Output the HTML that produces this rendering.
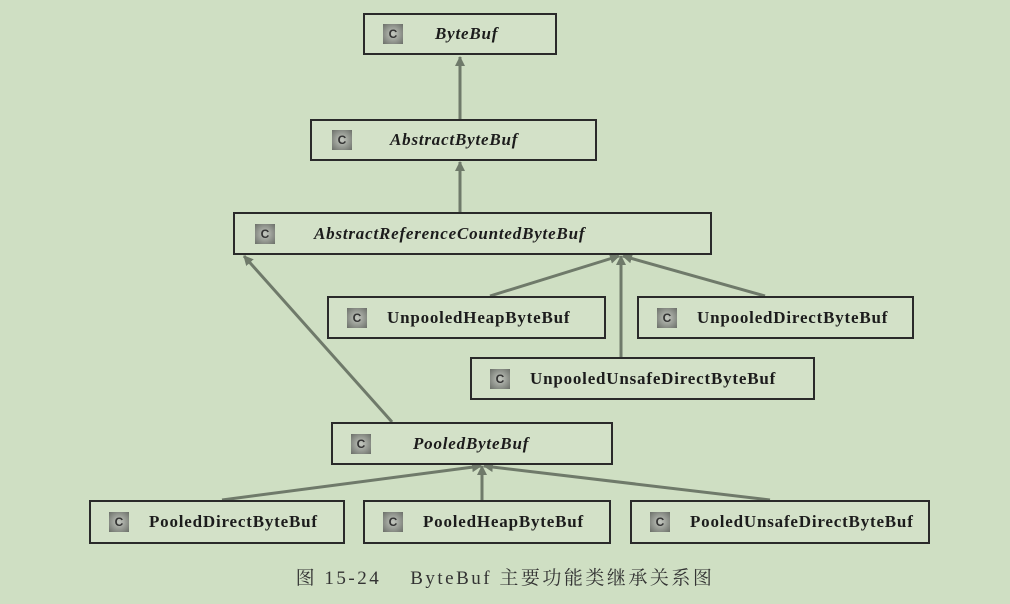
<!DOCTYPE html>
<html><head><style>
body{margin:0;width:1010px;height:604px;background:#cfdfc3;overflow:hidden;position:relative;font-family:"Liberation Serif",serif}
.b{position:absolute;border:2px solid #2a2a2a;box-sizing:border-box;background:#d3e1c8}
.i{position:absolute;top:50%;margin-top:-10px;width:20px;height:20px;background:radial-gradient(#c4c8c0,#6a6e68);font:bold 12px "Liberation Sans",sans-serif;color:#333;text-align:center;line-height:20px}
.t{position:absolute;top:0;bottom:0;display:flex;align-items:center;font-weight:bold;font-size:17px;letter-spacing:0.8px;color:#1c1c1c}
.it{font-style:italic}
svg{position:absolute;left:0;top:0}
.cap{position:absolute;top:563px;left:0;width:1010px;text-align:center;font:19px "Liberation Serif","Noto Serif CJK SC",serif;color:#333;letter-spacing:2.5px}
</style></head><body>
<svg width="1010" height="604"><defs><marker id="a" markerWidth="10" markerHeight="10" refX="9" refY="5" orient="auto" markerUnits="userSpaceOnUse"><path d="M0,0L10,5L0,10z" fill="#6f7a6a"/></marker></defs>
<g stroke="#6f7a6a" stroke-width="3" marker-end="url(#a)">
<line x1="460" y1="119" x2="460" y2="57"/>
<line x1="460" y1="212" x2="460" y2="162"/>
<line x1="392" y1="422" x2="244" y2="256"/>
<line x1="490" y1="296" x2="619" y2="256"/>
<line x1="621" y1="357" x2="621" y2="256"/>
<line x1="765" y1="296" x2="623" y2="256"/>
<line x1="222" y1="500" x2="481" y2="466"/>
<line x1="482" y1="500" x2="482" y2="466"/>
<line x1="770" y1="500" x2="484" y2="466"/>
</g></svg>
<div class="b" style="left:363px;top:13px;width:194px;height:42px"><div class="i" style="left:18px">C</div><div class="t it" style="left:70px">ByteBuf</div></div>
<div class="b" style="left:310px;top:119px;width:287px;height:42px"><div class="i" style="left:20px">C</div><div class="t it" style="left:78px">AbstractByteBuf</div></div>
<div class="b" style="left:233px;top:212px;width:479px;height:43px"><div class="i" style="left:20px">C</div><div class="t it" style="left:79px">AbstractReferenceCountedByteBuf</div></div>
<div class="b" style="left:327px;top:296px;width:279px;height:43px"><div class="i" style="left:18px">C</div><div class="t" style="left:58px">UnpooledHeapByteBuf</div></div>
<div class="b" style="left:637px;top:296px;width:277px;height:43px"><div class="i" style="left:18px">C</div><div class="t" style="left:58px">UnpooledDirectByteBuf</div></div>
<div class="b" style="left:470px;top:357px;width:345px;height:43px"><div class="i" style="left:18px">C</div><div class="t" style="left:58px">UnpooledUnsafeDirectByteBuf</div></div>
<div class="b" style="left:331px;top:422px;width:282px;height:43px"><div class="i" style="left:18px">C</div><div class="t it" style="left:80px">PooledByteBuf</div></div>
<div class="b" style="left:89px;top:500px;width:256px;height:44px"><div class="i" style="left:18px">C</div><div class="t" style="left:58px">PooledDirectByteBuf</div></div>
<div class="b" style="left:363px;top:500px;width:248px;height:44px"><div class="i" style="left:18px">C</div><div class="t" style="left:58px">PooledHeapByteBuf</div></div>
<div class="b" style="left:630px;top:500px;width:300px;height:44px"><div class="i" style="left:18px">C</div><div class="t" style="left:58px">PooledUnsafeDirectByteBuf</div></div>
<div class="cap">图 15-24&nbsp;&nbsp;&nbsp; ByteBuf 主要功能类继承关系图</div>
</body></html>
